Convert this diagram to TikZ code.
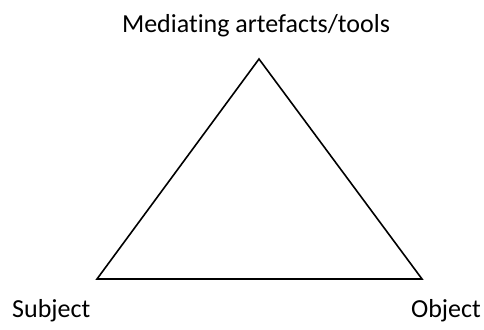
\documentclass[tikz,border=0pt]{standalone}
\usepackage{fontspec}
\setmainfont[Ligatures={NoCommon}]{Carlito}
\begin{document}
\begin{tikzpicture}[x=1pt,y=-1pt,
  lbl/.style={inner sep=0pt, font=\fontsize{26}{30}\selectfont},
  edge/.style={line width=1.6pt, line join=miter}]
\useasboundingbox (0,0) rectangle (484,329);
\coordinate (top) at (259,59);
\coordinate (bl) at (97,279);
\coordinate (br) at (422,279);
\draw[edge] (top) -- (bl) -- (br) -- cycle;
\node[lbl, anchor=base] (med) at (256,33) {Mediating artefacts/tools};
\node[lbl, anchor=base west] (subj) at (12,317) {Subject};
\node[lbl, anchor=base east] (obj) at (481,317) {Object};
\end{tikzpicture}
\end{document}
